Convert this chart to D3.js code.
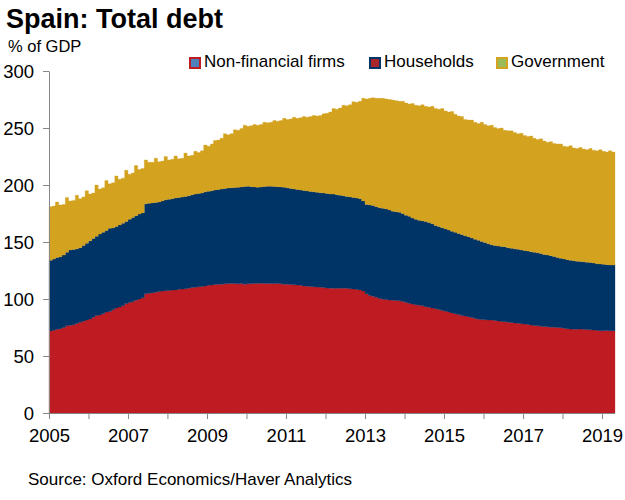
<!DOCTYPE html>
<html>
<head>
<meta charset="utf-8">
<script src="https://cdn.jsdelivr.net/npm/d3@7"></script>
<style>
  body { margin: 0; background: #fff; }
  text { font-family: Arial, "Liberation Sans", sans-serif; fill: #000; }
  .axis path, .axis line { stroke: #868686; }
</style>
</head>
<body>
<svg id="chart" width="625" height="500"></svg>
<script>
// Monthly readings, Jan 2005 - Apr 2019 (% of GDP)
const nonFinancial = [
  72, 72.5, 73.5, 74, 75, 76.5, 77, 77.5, 78.5, 79.5, 80.5, 81.5,
  82.5, 84, 85.5, 86, 87, 88.5, 89, 90.5, 92, 93, 94, 96,
  97, 97.5, 99, 100, 101, 104.5, 105, 105.5, 106, 106.5, 107, 107.3,
  107.5, 107.8, 108, 108.5, 108.7, 109, 109.5, 110, 110.3, 110.8, 111, 111.4,
  112, 112.3, 112.7, 113, 113, 113.3, 113.7, 113.7, 113.5, 113.3, 113.5, 113,
  113.3, 113.5, 113.7, 113.7, 113.9, 113.7, 113.7, 113.7, 113.5, 113.5, 113.3, 113,
  113, 112.8, 112.5, 112.3, 112, 111.5, 111.2, 111, 110.8, 110.5, 110.2, 110,
  109.6, 109.5, 109.5, 109.4, 109.4, 109.4, 109.4, 109, 108.8, 108.4, 108, 107,
  104.5, 103, 102.5, 101.5, 100.5, 99.8, 99.5, 99.2, 99, 98.7, 98.5, 97.8,
  97, 96.3, 95.6, 95, 94.5, 94, 93.3, 92.7, 92, 91.5, 90.7, 90,
  89.2, 88.5, 87.7, 87, 86.3, 85.5, 85, 84.5, 83.8, 83, 82.3, 82,
  81.8, 81.6, 81.5, 81.2, 80.8, 80.3, 80, 79.7, 79.3, 79, 78.7, 78.3,
  78, 77.7, 77.2, 76.8, 76.5, 76, 75.8, 75.6, 75.3, 75.2, 75.1, 74.8,
  74.3, 74, 73.6, 73.4, 73.4, 73.6, 73.4, 73.2, 73, 72.8, 72.5, 72.2,
  72.2, 72.3, 72.2, 72.2
];
const households = [
  62, 62.5, 63, 63, 63.5, 64.5, 66, 66, 65.5, 65.5, 66.5, 67.5,
  68.5, 69, 69.5, 71, 71.5, 71.5, 73, 72, 71.5, 72, 72.5, 72,
  73, 74, 74, 74.5, 74.5, 79, 79, 78.8, 78.7, 78.5, 79, 79.7,
  80, 80.2, 80.5, 80.5, 80.8, 81, 81, 81.5, 81.7, 81.7, 82, 82.6,
  82.5, 82.7, 82.9, 83, 83.5, 83.7, 83.6, 83.8, 84.3, 84.7, 84.8, 85.6,
  85.7, 85, 84.6, 84.3, 84.3, 84.9, 85.3, 85.3, 85.2, 85, 84.9, 85,
  84.5, 84.2, 84, 83.7, 83.6, 83.7, 83.6, 83.3, 83.2, 83.1, 83, 83,
  82.9, 82.5, 82.5, 82.1, 81.6, 81.2, 80.6, 80.5, 80.2, 80.1, 80, 79,
  78.5, 79.5, 79.5, 79.5, 79.5, 79.7, 79.5, 78.8, 78, 77.8, 77.5, 77.2,
  76.5, 76.2, 75.4, 75, 74.5, 74.5, 74.7, 74.3, 74, 73, 72.8, 72.5,
  72.3, 72, 71.8, 71.5, 71.2, 71, 70.5, 70.2, 69.7, 69.5, 69.2, 68.5,
  67.7, 66.9, 66, 65.8, 65.7, 65.7, 65.8, 65.3, 65.2, 65, 64.9, 64.7,
  64.5, 64.3, 64.3, 64.2, 64, 64, 63.2, 62.9, 62.7, 62, 61.4, 60.9,
  60.7, 60.5, 60.4, 60.2, 59.8, 59.4, 59.3, 59.1, 59, 58.7, 58.5, 58.5,
  58.2, 57.8, 57.6, 57.6
];
const government = [
  47, 46.5, 48.5, 45.5, 44.5, 48, 43, 43, 47, 43, 42.5, 46,
  41, 40, 45, 39.5, 39, 44, 39, 39.5, 44.5, 40, 39.5, 45,
  39.5, 39, 44, 39, 39, 38.5, 36, 35.7, 38.8, 35.5, 35, 38,
  34.5, 34.5, 37, 34, 34, 38, 35, 34.5, 37.5, 36, 37, 41,
  39.5, 41, 43.4, 43.5, 44.5, 48, 46.7, 47.5, 50.7, 50, 51.2, 53.9,
  52.5, 53.5, 54.7, 54.5, 54.8, 56.4, 55.5, 56, 57.8, 57.5, 58.3, 60.5,
  60, 61, 63, 62.5, 63.4, 64.8, 64.7, 65.7, 67, 66.9, 67.8, 69.5,
  70.5, 72, 75, 75, 76.5, 79.4, 79.5, 81, 84, 84, 85.5, 90,
  92.5, 93.5, 94.5, 95, 96, 96.5, 96.5, 97, 97.5, 97.5, 97.5, 98.5,
  98.5, 98.5, 100.5, 100, 100.5, 102, 101, 101.5, 103, 102.5, 103, 104.5,
  103.5, 103.5, 105, 103.5, 103, 103.5, 102, 102.3, 103.5, 102.5, 102.5, 104.5,
  103.5, 103.5, 105, 103.5, 103, 104, 102.2, 102.5, 103, 102, 101.4, 102.5,
  101, 100.5, 101.5, 100, 99.5, 100.5, 99.5, 99, 100, 99.3, 99.5, 100.3,
  99, 99, 100.5, 98.9, 98.8, 100, 98.8, 98.7, 100, 99, 99, 100.3,
  99.1, 98.9, 100.2, 99.2
];

const seriesKeys = ["nfc", "hh", "gov"];
const seriesNames = ["Non-financial firms", "Households", "Government"];
const seriesColors = ["#be1b23", "#003366", "#d3a21f"];
// the legend swatches have odd inner colours in the original
const swatchFills = ["#4f81bd", "#a8262c", "#9bbb59"];
const yTicks = [0, 50, 100, 150, 200, 250, 300];
const xLabelYears = [2005, 2007, 2009, 2011, 2013, 2015, 2017, 2019];

const svg = d3.select("#chart");
const margin = { left: 49, right: 10, top: 71, bottom: 87 };

// one row per month, plus a closing row so the last step has width
let rows = nonFinancial.map((v, i) => ({
  date: new Date(2005, i, 1),
  nfc: v,
  hh: households[i],
  gov: government[i]
}));
let last = rows[rows.length - 1];
rows.push({ date: new Date(2005, rows.length, 1), nfc: last.nfc, hh: last.hh, gov: last.gov });

const x = d3.scaleTime()
  .domain([rows[0].date, rows[rows.length - 1].date])
  .range([margin.left, 615]);

const y = d3.scaleLinear()
  .domain([0, 300])
  .range([413, 71]);

const stacked = d3.stack().keys(seriesKeys)(rows);

const area = d3.area()
  .curve(d3.curveStepAfter)
  .x(d => x(d.data.date))
  .y0(d => y(d[0]))
  .y1(d => y(d[1]));

svg.append("g")
  .selectAll("path")
  .data(stacked)
  .enter()
  .append("path")
  .attr("d", area)
  .attr("fill", (d, i) => seriesColors[i])
  .attr("stroke", (d, i) => seriesColors[i])
  .attr("stroke-width", 0.3);

// y axis
let yAxis = svg.append("g")
  .attr("class", "axis")
  .attr("transform", `translate(${margin.left},0)`)
  .call(d3.axisLeft(y).tickValues(yTicks).tickSize(6).tickSizeOuter(0).tickPadding(9));
yAxis.selectAll("text").style("font-size", "18.5px").attr("dy", "0.36em");

// x axis: a tick every year, labels every other year
let yearTicks = d3.range(2005, 2020).map(yr => new Date(yr, 0, 1));
let xAxis = svg.append("g")
  .attr("class", "axis")
  .attr("transform", "translate(0,413)")
  .call(d3.axisBottom(x)
    .tickValues(yearTicks)
    .tickSize(6)
    .tickSizeOuter(0)
    .tickPadding(10)
    .tickFormat(d => xLabelYears.includes(d.getFullYear()) ? d.getFullYear() : ""));
xAxis.selectAll("text").style("font-size", "18.5px");
xAxis.select(".domain").attr("d", `M${margin.left},0.5H615`);

// titles
svg.append("text")
  .attr("x", 6)
  .attr("y", 28)
  .style("font-size", "27px")
  .style("font-weight", "bold")
  .text("Spain: Total debt");

svg.append("text")
  .attr("x", 8)
  .attr("y", 52)
  .style("font-size", "16.5px")
  .text("% of GDP");

svg.append("text")
  .attr("x", 28)
  .attr("y", 485)
  .style("font-size", "17px")
  .text("Source: Oxford Economics/Haver Analytics");

// legend
const legendX = [189, 369, 496];
let legend = svg.append("g");
seriesNames.forEach((name, i) => {
  legend.append("rect")
    .attr("x", legendX[i] + 1)
    .attr("y", 58)
    .attr("width", 10)
    .attr("height", 10)
    .attr("fill", swatchFills[i])
    .attr("stroke", seriesColors[i])
    .attr("stroke-width", 2);
  legend.append("text")
    .attr("x", legendX[i] + 15)
    .attr("y", 67)
    .style("font-size", "17px")
    .text(name);
});
</script>
</body>
</html>
